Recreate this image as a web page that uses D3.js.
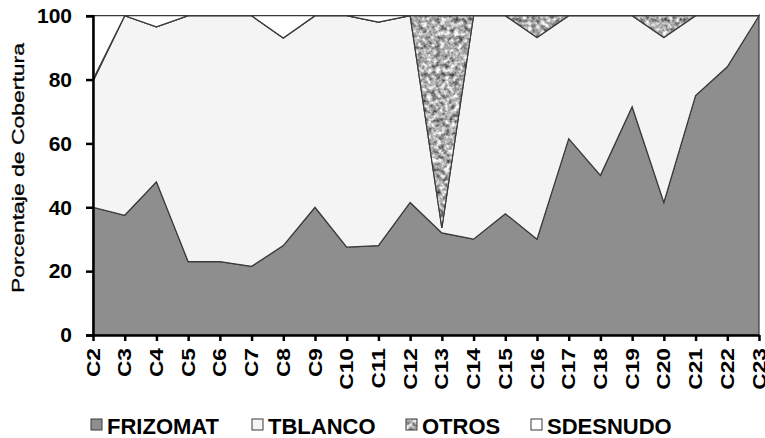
<!DOCTYPE html>
<html>
<head>
<meta charset="utf-8">
<script src="https://cdn.jsdelivr.net/npm/d3@7"></script>
<style>
  html, body { margin: 0; padding: 0; background: #fff; }
  svg { display: block; font-family: "Liberation Sans", Arial, sans-serif; }
</style>
</head>
<body>
<div id="area-chart"></div>
<script>
// 1. The data
const categories = ["C2", "C3", "C4", "C5", "C6", "C7", "C8", "C9", "C10", "C11", "C12",
  "C13", "C14", "C15", "C16", "C17", "C18", "C19", "C20", "C21", "C22", "C23"];
const frizomat = [40, 37.5, 48, 23, 23, 21.5, 28, 40, 27.5, 28, 41.5,
  32, 30, 38, 30, 61.5, 50, 71.5, 41.5, 75, 84, 100];
const tblanco = [39.5, 62.5, 48.5, 77, 77, 78.5, 65, 60, 72.5, 70, 58.5,
  1.5, 70, 62, 63.2, 38.5, 50, 28.5, 51.7, 25, 16, 0];
const otros = [0.5, 0, 0, 0, 0, 0, 0, 0, 0, 0, 0,
  66.5, 0, 0, 6.8, 0, 0, 0, 6.8, 0, 0, 0];
const sdesnudo = [20, 0, 3.5, 0, 0, 0, 7, 0, 0, 2, 0,
  0, 0, 0, 0, 0, 0, 0, 0, 0, 0, 0];
const seriesNames = ["FRIZOMAT", "TBLANCO", "OTROS", "SDESNUDO"];
const yTicks = [0, 20, 40, 60, 80, 100];

// 2. The colours
const fills = {
  FRIZOMAT: "#8e8e8e",
  TBLANCO: "#f4f4f4",
  OTROS: "url(#otros-tex)",
  SDESNUDO: "#ffffff"
};

// 3. Build rows for the stack
const rows = categories.map((c, i) => ({
  cat: c,
  FRIZOMAT: frizomat[i],
  TBLANCO: tblanco[i],
  OTROS: otros[i],
  SDESNUDO: sdesnudo[i]
}));

function drawChart() {
  const WIDTH = 765;
  const HEIGHT = 438;
  const left = 93, right = 759, top = 15.7, bottom = 335;

  const svg = d3
    .select("#area-chart")
    .append("svg")
    .attr("width", WIDTH)
    .attr("height", HEIGHT);

  // texture for OTROS (grainy grey like the original)
  const defs = svg.append("defs");
  const filt = defs.append("filter").attr("id", "noise")
    .attr("color-interpolation-filters", "sRGB")
    .attr("x", 0).attr("y", 0).attr("width", "100%").attr("height", "100%");
  filt.append("feTurbulence").attr("type", "fractalNoise")
    .attr("baseFrequency", 0.22).attr("numOctaves", 3).attr("seed", 7);
  filt.append("feColorMatrix").attr("type", "matrix")
    .attr("values", "1 0 0 0 0  1 0 0 0 0  1 0 0 0 0  0 0 0 0 1");
  const ct = filt.append("feComponentTransfer");
  ["feFuncR", "feFuncG", "feFuncB"].forEach((f) => {
    ct.append(f).attr("type", "linear").attr("slope", 1.25).attr("intercept", 0.06);
  });
  const pat = defs.append("pattern").attr("id", "otros-tex")
    .attr("patternUnits", "userSpaceOnUse")
    .attr("width", WIDTH).attr("height", HEIGHT);
  pat.append("rect").attr("width", WIDTH).attr("height", HEIGHT)
    .attr("filter", "url(#noise)");

  // scales
  const x = d3.scalePoint().domain(categories).range([left, right]);
  const y = d3.scaleLinear().domain([0, 100]).range([bottom, top]);

  // stacked areas
  const stack = d3.stack().keys(seriesNames);
  const area = d3.area()
    .x((d) => x(d.data.cat))
    .y0((d) => y(d[0]))
    .y1((d) => y(d[1]));

  svg.append("g")
    .selectAll("path")
    .data(stack(rows))
    .enter()
    .append("path")
    .attr("d", area)
    .attr("fill", (d) => fills[d.key])
    .attr("stroke", "#3a3a3a")
    .attr("stroke-width", 1.2)
    .attr("stroke-linejoin", "miter");

  // y axis
  const yAxis = svg.append("g")
    .attr("transform", `translate(${left},0)`)
    .call(d3.axisLeft(y).tickValues(yTicks).tickSize(7).tickPadding(14));
  yAxis.select(".domain").attr("stroke", "#000").attr("stroke-width", 2.5);
  yAxis.selectAll(".tick line").attr("stroke", "#000").attr("stroke-width", 2.5);
  yAxis.selectAll(".tick text")
    .attr("font-family", "Liberation Sans, Arial, sans-serif")
    .attr("font-size", 21)
    .attr("font-weight", "bold")
    .attr("fill", "#000");

  // x axis
  const xAxis = svg.append("g")
    .attr("transform", `translate(0,${bottom})`)
    .call(d3.axisBottom(x).tickSize(6).tickSizeOuter(0));
  xAxis.select(".domain").attr("stroke", "#000").attr("stroke-width", 2.5);
  xAxis.selectAll(".tick line").attr("stroke", "#000").attr("stroke-width", 2.5);
  xAxis.selectAll(".tick text")
    .attr("font-family", "Liberation Sans, Arial, sans-serif")
    .attr("font-size", 17.5)
    .attr("font-weight", "bold")
    .attr("fill", "#000")
    .attr("text-anchor", "end")
    .attr("dy", null)
    .attr("y", null)
    .attr("dominant-baseline", "central")
    .attr("transform", "translate(0,13) rotate(-90) scale(1.3,1)");

  // y axis title
  svg.append("text")
    .attr("transform", "translate(18,168) rotate(-90) scale(1.35,1)")
    .attr("text-anchor", "middle")
    .attr("dominant-baseline", "central")
    .attr("font-size", 17)
    .attr("fill", "#000")
    .attr("stroke", "#000")
    .attr("stroke-width", 0.3)
    .text("Porcentaje de Cobertura");

  // legend
  const legendX = [91, 252, 406, 531];
  const legend = svg.append("g")
    .selectAll("g")
    .data(seriesNames)
    .enter()
    .append("g")
    .attr("transform", (d, i) => `translate(${legendX[i]},419)`);
  legend.append("rect")
    .attr("width", 11)
    .attr("height", 11)
    .attr("fill", (d) => fills[d])
    .attr("stroke", "#3a3a3a")
    .attr("stroke-width", 1);
  legend.append("text")
    .attr("x", 16)
    .attr("y", 15)
    .attr("font-size", 22)
    .attr("font-weight", "bold")
    .attr("fill", "#000")
    .text((d) => d);
}

drawChart();
</script>
</body>
</html>
